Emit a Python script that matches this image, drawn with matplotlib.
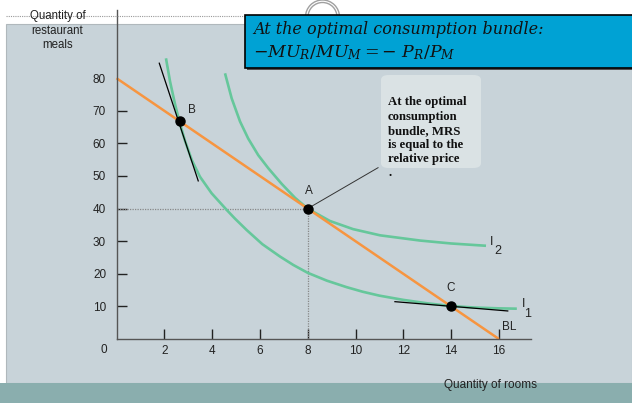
import matplotlib
matplotlib.use("Agg")
import matplotlib.pyplot as plt
from matplotlib.patches import Rectangle, FancyBboxPatch, Circle
from matplotlib.lines import Line2D

plt.rcParams["mathtext.fontset"] = "dejavuserif"

# budget line
bl_x = [0, 16]
bl_y = [80, 0]

# indifference curves
i1_x = [2.07, 2.24, 2.45, 2.63, 2.87, 3.15, 3.49, 3.98, 4.61, 4.96, 5.45, 6.1, 6.84, 7.4,
        8.0, 8.8, 9.63, 10.3, 11.0, 12.0, 13.0, 14.0, 15.0, 16.0, 16.75]
i1_y = [86.1, 79.0, 72.0, 66.7, 60.7, 54.9, 49.8, 44.7, 39.6, 36.9, 33.4, 29.1, 25.3, 22.7,
        20.3, 17.9, 15.9, 14.5, 13.3, 12.0, 10.95, 10.1, 9.65, 9.4, 9.3]
i2_x = [4.54, 4.82, 5.17, 5.51, 5.93, 6.35, 6.91, 7.47, 8.0, 8.93, 9.9, 11.03, 12.7, 14.0, 15.46]
i2_y = [81.5, 73.8, 66.7, 61.5, 56.4, 52.4, 47.6, 43.3, 40.0, 36.2, 33.7, 31.8, 30.2, 29.3, 28.6]

# tangent lines at B and C
tan_b_x = [1.79, 3.42]
tan_b_y = [84.6, 48.5]
tan_c_x = [11.65, 16.37]
tan_c_y = [11.45, 8.6]

# bundles
pt_names = ["A", "B", "C"]
pt_x = [8, 2.65, 14]
pt_y = [40, 66.75, 10]

x_ticks = [2, 4, 6, 8, 10, 12, 14, 16]
y_ticks = [10, 20, 30, 40, 50, 60, 70, 80]

W, H = 632, 403
fig = plt.figure(figsize=(W / 100, H / 100), dpi=100)
fig.patch.set_facecolor("white")


def fx(px):
    return px / W


def fy(py):
    return 1 - py / H


# slide background
fig.add_artist(Rectangle((fx(6), fy(383)), fx(626), 359 / H, facecolor="#c8d3d9",
                         edgecolor="#b0b8bc", lw=0.8, zorder=0))
fig.add_artist(Rectangle((0, 0), 1, 20 / H, facecolor="#8aaeae", edgecolor="none", zorder=0))
fig.add_artist(Line2D([fx(6), 1], [fy(16), fy(16)], color="#999999", lw=0.8,
                      linestyle=(0, (1, 1)), zorder=1))
for r in (17, 14.5):
    fig.add_artist(Circle((322.5, H - 17), r, transform=None, fill=False,
                          edgecolor="#a0a0a0", lw=1.0, zorder=1))

# header box
fig.add_artist(Rectangle((fx(247), fy(70)), 1, 53 / H, facecolor="#505050",
                         edgecolor="none", zorder=2))
fig.add_artist(Rectangle((fx(245), fy(68)), 1, 53 / H, facecolor="#00a2d4",
                         edgecolor="black", lw=1.2, zorder=3))
fig.text(fx(253), fy(30), "At the optimal consumption bundle:", family="DejaVu Serif",
         style="italic", fontsize=11.5, va="center", ha="left", zorder=4, color="#111111")
fig.text(fx(253), fy(53), r"$-MU_R/MU_M = -\ P_R/P_M$", fontsize=12.5, va="center",
         ha="left", zorder=4, color="#111111")

ax = fig.add_axes([fx(116.5), fy(339), 17.35 * 23.9 / W, 101 * 3.26 / H])
ax.set_facecolor("none")
ax.set_xlim(0, 17.35)
ax.set_ylim(0, 101)

for s in ("top", "right"):
    ax.spines[s].set_visible(False)
for s in ("left", "bottom"):
    ax.spines[s].set_color("#555555")
    ax.spines[s].set_linewidth(1.0)

ax.set_xticks(x_ticks)
ax.set_xticklabels([str(v) for v in x_ticks])
ax.set_yticks(y_ticks)
ax.set_yticklabels([str(v) for v in y_ticks])
ax.tick_params(axis="x", direction="in", length=7.2, width=1, color="#222222",
               labelsize=8.5, pad=4, labelcolor="#222222")
ax.tick_params(axis="y", direction="in", length=7.2, width=1, color="#222222",
               labelsize=8.5, pad=7.5, labelcolor="#222222")
ax.yaxis.get_major_ticks()[-1].tick1line.set_visible(False)
for lab in ax.get_xticklabels() + ax.get_yticklabels():
    lab.set_family("Liberation Sans")
ax.text(-0.52, -3.4, "0", fontsize=8.5, family="Liberation Sans", ha="center", va="center",
        color="#222222", clip_on=False)

# dotted guides to A
ax.plot([0, pt_x[0]], [pt_y[0], pt_y[0]], color="#888888", lw=0.9, linestyle=(0, (1, 1)))
ax.plot([pt_x[0], pt_x[0]], [0, pt_y[0]], color="#888888", lw=0.9, linestyle=(0, (1, 1)))

ax.plot(i1_x, i1_y, color="#66c79b", lw=1.9, solid_capstyle="butt", solid_joinstyle="round",
        clip_on=False)
ax.plot(i2_x, i2_y, color="#66c79b", lw=1.9, solid_capstyle="butt", solid_joinstyle="round",
        clip_on=False)
ax.plot(bl_x, bl_y, color="#f79540", lw=1.8, solid_capstyle="butt", clip_on=False)
ax.plot(tan_b_x, tan_b_y, color="black", lw=0.9)
ax.plot(tan_c_x, tan_c_y, color="black", lw=0.9)
ax.plot(pt_x, pt_y, "o", color="black", markersize=6.5, zorder=5)

label_offsets = {"A": (0.05, 5.4), "B": (0.5, 3.5), "C": (-0.04, 5.7)}
for n, x, y in zip(pt_names, pt_x, pt_y):
    dx, dy = label_offsets[n]
    ax.text(x + dx, y + dy, n, fontsize=8.5, family="Liberation Sans", ha="center",
            va="center", color="#222222")

ax.text(15.7, 29.8, "I", fontsize=9, family="Liberation Sans", ha="center", va="center",
        color="#222222")
ax.text(15.95, 27.0, "2", fontsize=9, family="Liberation Sans", ha="center", va="center",
        color="#222222")
ax.text(17.05, 10.7, "I", fontsize=9, family="Liberation Sans", ha="center", va="center",
        color="#222222", clip_on=False)
ax.text(17.2, 7.7, "1", fontsize=9, family="Liberation Sans", ha="center", va="center",
        color="#222222", clip_on=False)
ax.text(16.43, 3.8, "BL", fontsize=8.5, family="Liberation Sans", ha="center", va="center",
        color="#222222")

# callout
ax.annotate("", xy=(pt_x[0], pt_y[0]), xytext=(11.05, 53.0),
            arrowprops=dict(arrowstyle="-", color="#333333", lw=0.7))
fig.add_artist(FancyBboxPatch((fx(381), fy(168)), 100 / W, 93 / H,
                              boxstyle="round,pad=0,rounding_size=0.012",
                              facecolor="#dae2e4", edgecolor="none", zorder=2))
callout_lines = ["At the optimal", "consumption", "bundle, MRS", "is equal to the",
                 "relative price", "."]
for i, line in enumerate(callout_lines):
    fig.text(fx(388), fy(105.5 + 14.2 * i), line, family="Liberation Serif", weight="bold",
             fontsize=9.2, ha="left", va="baseline", color="#111111", zorder=3)

ylab_lines = ["Quantity of", "restaurant", "meals"]
for i, line in enumerate(ylab_lines):
    fig.text(fx(57.5), fy(16 + 14.6 * i), line, family="Liberation Sans", fontsize=8.3,
             ha="center", va="center", color="#222222")
fig.text(fx(490), fy(385), "Quantity of rooms", family="Liberation Sans", fontsize=8.5,
         ha="center", va="center", color="#222222")

fig.savefig("out.png", dpi=100)
